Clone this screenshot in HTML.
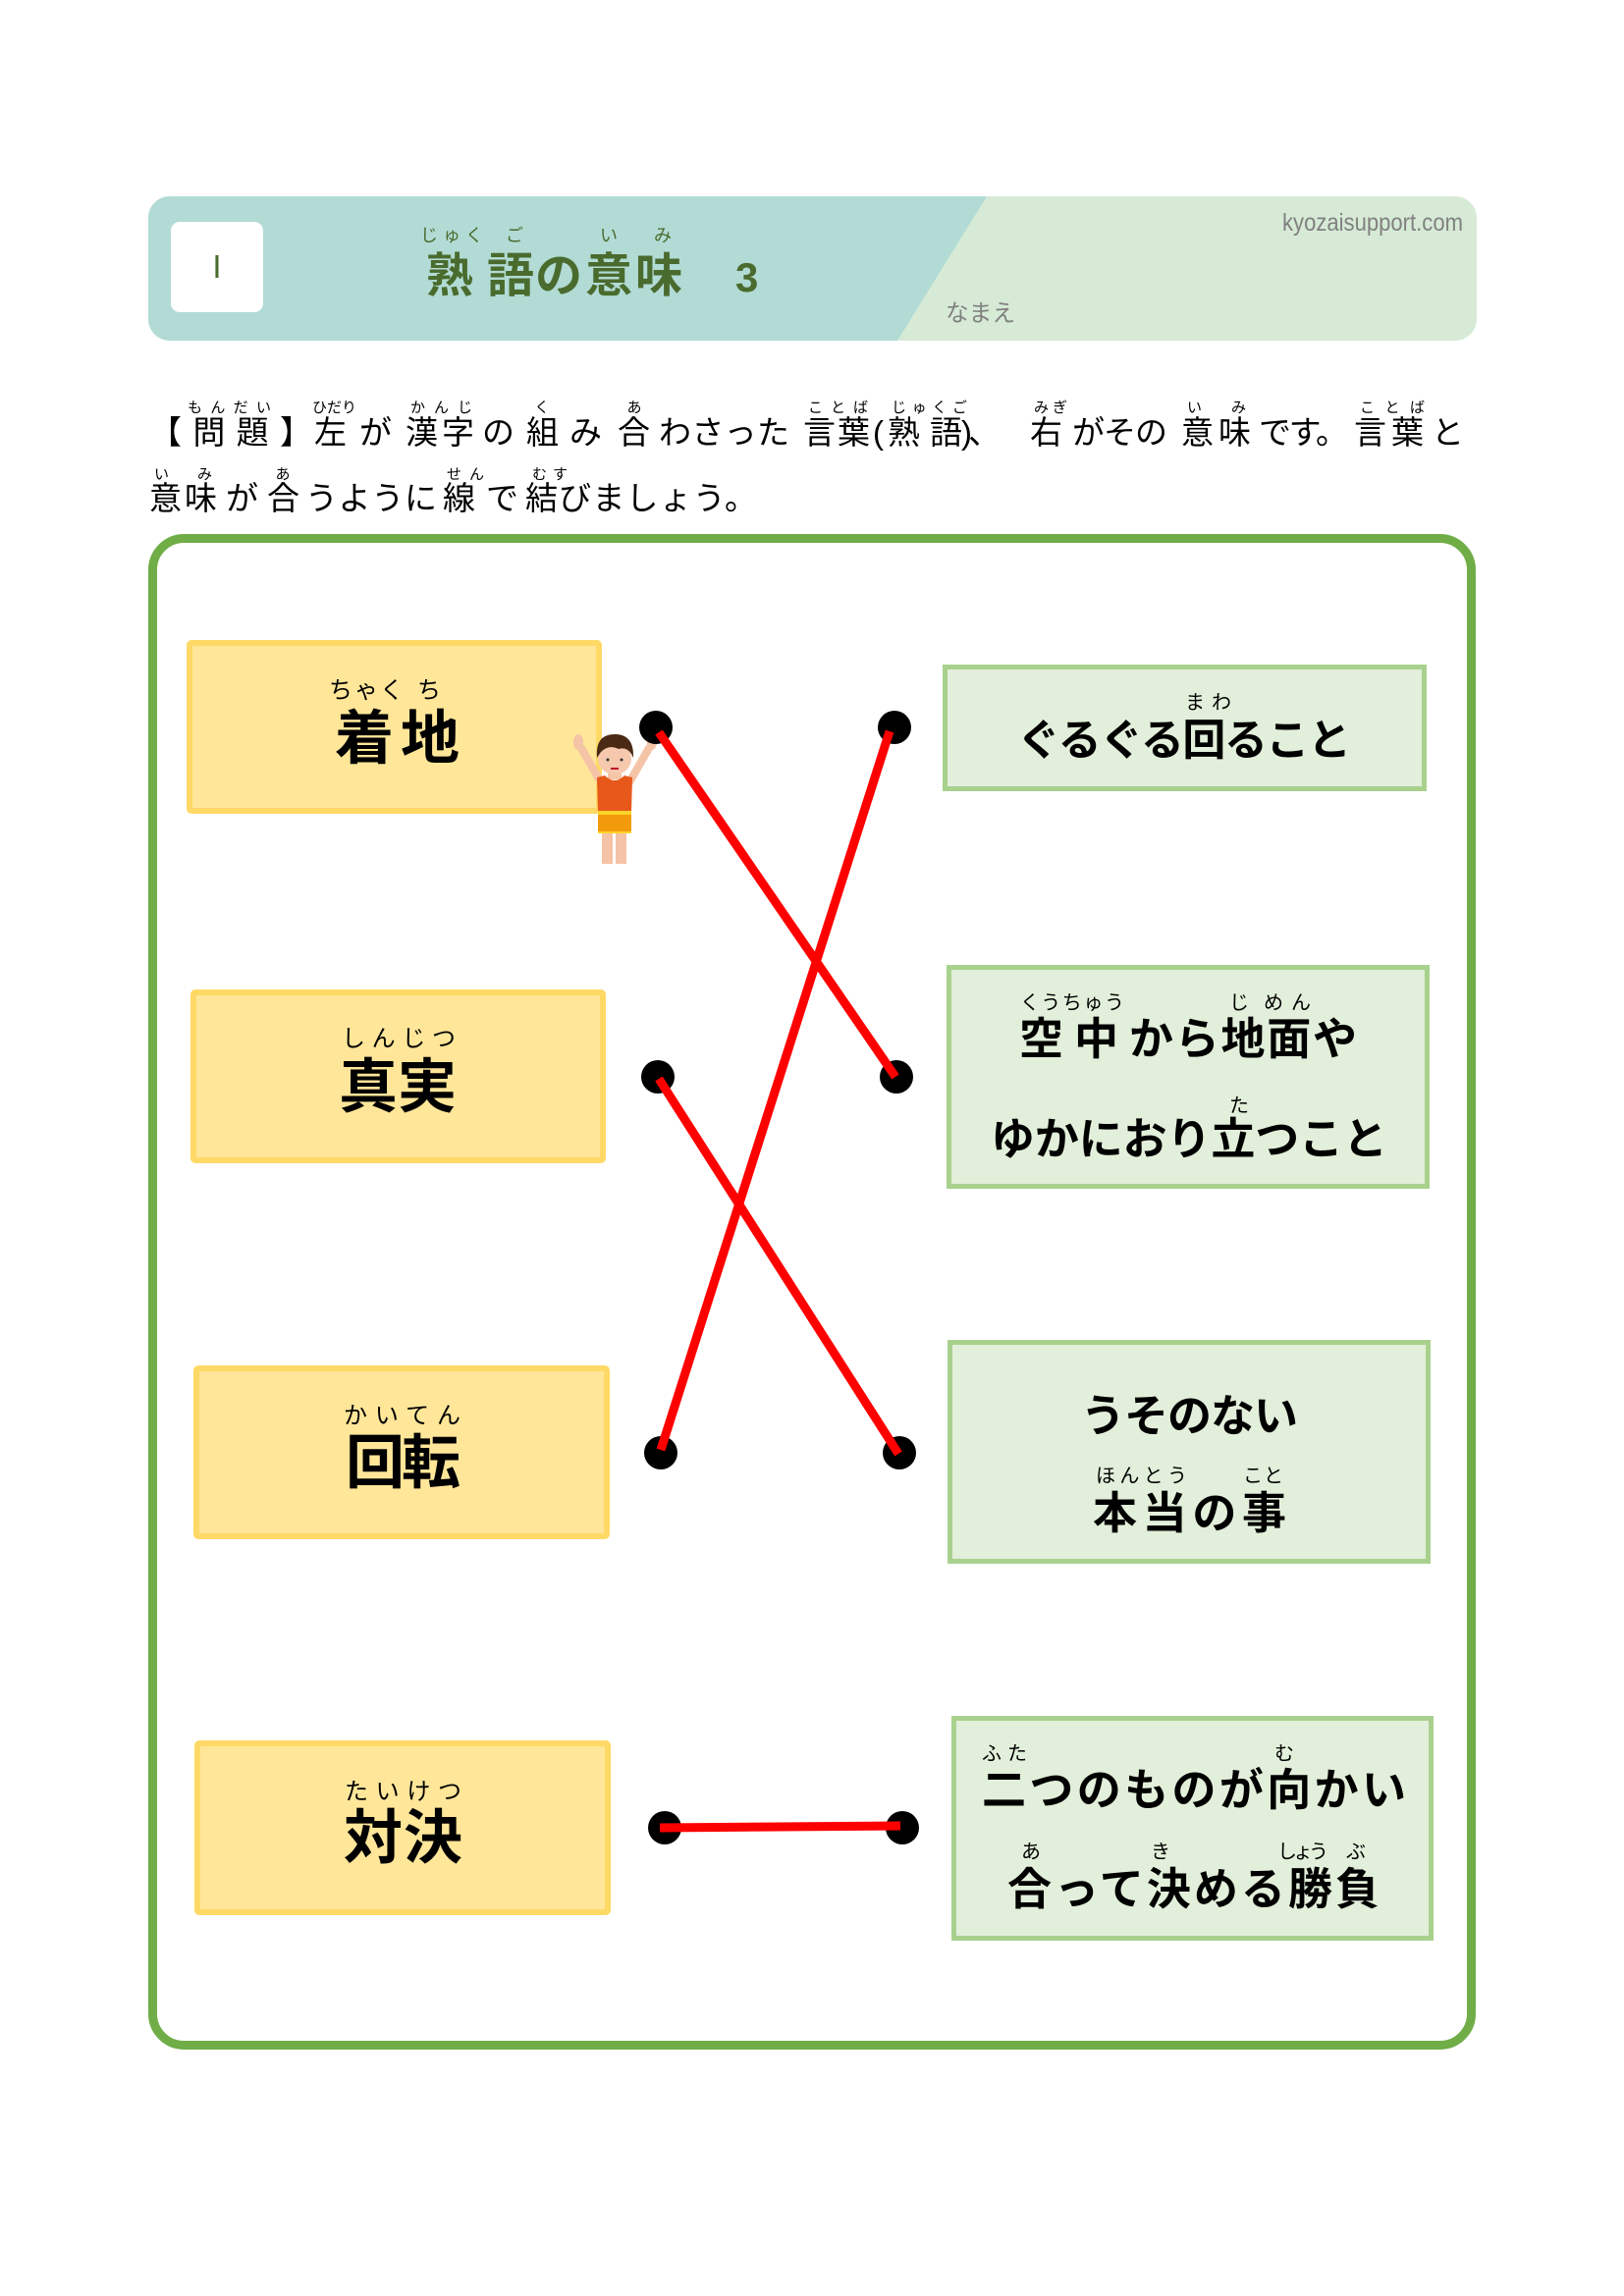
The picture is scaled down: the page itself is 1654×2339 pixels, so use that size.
<!DOCTYPE html>
<html lang="ja">
<head>
<meta charset="utf-8">
<style>
  html,body{margin:0;padding:0;background:#fff;}
  body{width:1654px;height:2339px;overflow:hidden;}
  svg{display:block;}
  .jp{font-family:"Liberation Sans","Noto Sans CJK JP",sans-serif;}
  .b{font-weight:bold;}
</style>
</head>
<body>
<svg width="1654" height="2339" viewBox="0 0 1654 2339" xmlns="http://www.w3.org/2000/svg">
  <defs>
    <clipPath id="hdr">
      <rect x="151" y="200" width="1353" height="147" rx="22" ry="22"/>
    </clipPath>
  </defs>

  <!-- Header band -->
  <g clip-path="url(#hdr)">
    <rect x="151" y="200" width="1353" height="147" fill="#d6ead6"/>
    <polygon points="151,200 1005,200 914,347 151,347" fill="#b2dbd5"/>
  </g>
  <rect x="174" y="226" width="94" height="92" rx="9" ry="9" fill="#ffffff"/>
  <text x="221" y="283" font-family="Liberation Sans, sans-serif" font-size="33" fill="#4a6b2e" text-anchor="middle">I</text>

  <!-- Title -->
  <g class="jp" fill="#4a6b2e">
    <text x="428" y="246" font-size="18" textLength="64">じゅく</text>
    <text x="515" y="246" font-size="18">ご</text>
    <text x="611" y="246" font-size="18">い</text>
    <text x="666" y="246" font-size="18">み</text>
    <text class="b" x="434" y="297" font-size="48">熟</text>
    <text class="b" x="496" y="297" font-size="48">語</text>
    <text class="b" x="545" y="297" font-size="48" textLength="150">の意味</text>
    <text class="b" x="749" y="297" font-size="42" font-family="Liberation Sans, sans-serif">3</text>
  </g>
  <text x="1306" y="235" font-family="Liberation Sans, sans-serif" font-size="25" fill="#808080" textLength="184" lengthAdjust="spacingAndGlyphs">kyozaisupport.com</text>
  <text class="jp" x="963" y="327" font-size="24" fill="#808080" textLength="71" lengthAdjust="spacingAndGlyphs">なまえ</text>

  <!-- Instruction line 1 -->
  <g class="jp" fill="#000">
    <text x="191" y="420" font-size="15" textLength="85">もんだい</text>
    <text x="318" y="420" font-size="15" textLength="45">ひだり</text>
    <text x="418" y="420" font-size="15" textLength="63">かんじ</text>
    <text x="552" y="420" font-size="15" text-anchor="middle">く</text>
    <text x="646" y="420" font-size="15" text-anchor="middle">あ</text>
    <text x="823" y="420" font-size="15" textLength="61">ことば</text>
    <text x="908" y="420" font-size="15" textLength="77">じゅくご</text>
    <text x="1053" y="420" font-size="15" textLength="34">みぎ</text>
    <text x="1209" y="420" font-size="15" textLength="60">いみ</text>
    <text x="1385" y="420" font-size="15" textLength="66">ことば</text>

    <text x="152" y="452" font-size="33" textLength="166">【問題】</text>
    <text x="320" y="452" font-size="33">左</text>
    <text x="366" y="452" font-size="33">が</text>
    <text x="413" y="452" font-size="33" textLength="70">漢字</text>
    <text x="491" y="452" font-size="33">の</text>
    <text x="536" y="452" font-size="33">組</text>
    <text x="580" y="452" font-size="33">み</text>
    <text x="629" y="452" font-size="33">合</text>
    <text x="671" y="452" font-size="33" textLength="133">わさった</text>
    <text x="818" y="452" font-size="33" textLength="68">言葉</text>
    <text x="889" y="452" font-size="33">(</text>
    <text x="904" y="452" font-size="33">熟</text>
    <text x="947" y="452" font-size="33">語</text>
    <text x="979" y="452" font-size="33">)</text>
    <text x="986" y="452" font-size="33">、</text>
    <text x="1049" y="452" font-size="33">右</text>
    <text x="1092" y="452" font-size="33" textLength="97">がその</text>
    <text x="1203" y="452" font-size="33" textLength="71">意味</text>
    <text x="1282" y="452" font-size="33" textLength="91">です。</text>
    <text x="1379" y="452" font-size="33" textLength="71">言葉</text>
    <text x="1458" y="452" font-size="33">と</text>

    <!-- Instruction line 2 -->
    <text x="157" y="488" font-size="15" textLength="59">いみ</text>
    <text x="288" y="488" font-size="15" text-anchor="middle">あ</text>
    <text x="455" y="488" font-size="15" textLength="38">せん</text>
    <text x="542" y="488" font-size="15" textLength="36">むす</text>

    <text x="152" y="519" font-size="33" textLength="69">意味</text>
    <text x="230" y="519" font-size="33">が</text>
    <text x="272" y="519" font-size="33">合</text>
    <text x="311" y="519" font-size="33" textLength="134">うように</text>
    <text x="451" y="519" font-size="33">線</text>
    <text x="495" y="519" font-size="33">で</text>
    <text x="535" y="519" font-size="33" textLength="236">結びましょう。</text>
  </g>

  <!-- Big green frame -->
  <rect x="155.5" y="548.5" width="1343" height="1535" rx="32" ry="32" fill="none" stroke="#70ad47" stroke-width="9"/>

  <!-- Left boxes -->
  <g fill="#ffe699" stroke="#ffd966" stroke-width="6">
    <rect x="193" y="655" width="417" height="171" rx="2"/>
    <rect x="197" y="1011" width="417" height="171" rx="2"/>
    <rect x="200" y="1394" width="418" height="171" rx="2"/>
    <rect x="201" y="1776" width="418" height="172" rx="2"/>
  </g>

  <!-- Right boxes -->
  <g fill="#e2efda" stroke="#a9d18e" stroke-width="5">
    <rect x="962.5" y="679.5" width="488" height="124"/>
    <rect x="966.5" y="985.5" width="487" height="223"/>
    <rect x="967.5" y="1367.5" width="487" height="223"/>
    <rect x="971.5" y="1750.5" width="486" height="224"/>
  </g>

  <!-- Left box texts -->
  <g class="jp" fill="#000">
    <text x="335" y="711" font-size="24" textLength="76">ちゃく</text>
    <text x="425" y="711" font-size="24">ち</text>
    <text class="b" x="341" y="773" font-size="60" textLength="127">着地</text>

    <text x="348" y="1066" font-size="24" textLength="116">しんじつ</text>
    <text class="b" x="345" y="1128" font-size="60" textLength="120">真実</text>

    <text x="350" y="1450" font-size="24" textLength="119">かいてん</text>
    <text class="b" x="352" y="1511" font-size="60" textLength="117">回転</text>

    <text x="351" y="1833" font-size="24" textLength="119">たいけつ</text>
    <text class="b" x="350" y="1893" font-size="60" textLength="121">対決</text>
  </g>

  <!-- Right box texts -->
  <g class="jp" fill="#000">
    <!-- R1 -->
    <text x="1207" y="722" font-size="20" textLength="47">まわ</text>
    <text class="b" x="1036" y="769" font-size="44" textLength="340">ぐるぐる回ること</text>

    <!-- R2 -->
    <text x="1039" y="1028" font-size="20" textLength="106">くうちゅう</text>
    <text x="1252" y="1028" font-size="20">じ</text>
    <text x="1287" y="1028" font-size="20" textLength="48">めん</text>
    <text class="b" x="1038" y="1074" font-size="45">空</text>
    <text class="b" x="1094" y="1074" font-size="45">中</text>
    <text class="b" x="1150" y="1074" font-size="45" textLength="232">から地面や</text>
    <text x="1262" y="1133" font-size="20" text-anchor="middle">た</text>
    <text class="b" x="1009" y="1176" font-size="45" textLength="404">ゆかにおり立つこと</text>

    <!-- R3 -->
    <text class="b" x="1101" y="1458" font-size="45" textLength="221">うそのない</text>
    <text x="1116" y="1510" font-size="20" textLength="93">ほんとう</text>
    <text x="1266" y="1510" font-size="20" textLength="41">こと</text>
    <text class="b" x="1113" y="1557" font-size="45" textLength="197">本当の事</text>

    <!-- R4 -->
    <text x="1000" y="1793" font-size="20" textLength="46">ふた</text>
    <text x="1308" y="1793" font-size="20" text-anchor="middle">む</text>
    <text class="b" x="1000" y="1839" font-size="45" textLength="432">二つのものが向かい</text>
    <text x="1050" y="1893" font-size="20" text-anchor="middle">あ</text>
    <text x="1182" y="1893" font-size="20" text-anchor="middle">き</text>
    <text x="1301" y="1893" font-size="20" textLength="52">しょう</text>
    <text x="1381" y="1893" font-size="20" text-anchor="middle">ぶ</text>
    <text class="b" x="1026" y="1940" font-size="45" textLength="379">合って決める勝負</text>
  </g>

  <!-- Person illustration -->
  <g>
    <line x1="612" y1="797" x2="592" y2="762" stroke="#f5c3a5" stroke-width="8" stroke-linecap="round"/>
    <line x1="641" y1="797" x2="661" y2="762" stroke="#f5c3a5" stroke-width="8" stroke-linecap="round"/>
    <ellipse cx="589" cy="756" rx="5" ry="8" fill="#f5c3a5"/>
    <ellipse cx="664" cy="756" rx="5" ry="8" fill="#f5c3a5"/>
    <rect x="613" y="846" width="11" height="34" fill="#f5c3a5"/>
    <rect x="627" y="846" width="11" height="34" fill="#f5c3a5"/>
    <rect x="619" y="782" width="14" height="12" fill="#f5c3a5"/>
    <path d="M608,792 L616,790 Q626,800 636,790 L644,792 L643,828 L609,828 Z" fill="#e8581b"/>
    <rect x="609" y="826" width="34" height="4" fill="#ffd42a"/>
    <rect x="609" y="830" width="34" height="18" fill="#f39a0c"/>
    <rect x="609" y="847" width="34" height="2" fill="#ffd42a"/>
    <ellipse cx="626" cy="773" rx="17" ry="16" fill="#f6c9ae"/>
    <path d="M608,772 Q606,748 626,748 Q646,748 645,772 Q640,760 630,763 Q620,758 612,766 Z" fill="#4a2a14"/>
    <circle cx="619" cy="774" r="1.5" fill="#333"/>
    <circle cx="633" cy="774" r="1.5" fill="#333"/>
    <rect x="622" y="782" width="8" height="2" fill="#c0102a"/>
  </g>

  <!-- Connector dots -->
  <g fill="#000">
    <circle cx="668" cy="741" r="17"/>
    <circle cx="911" cy="741" r="17"/>
    <circle cx="670" cy="1097" r="17"/>
    <circle cx="913" cy="1097" r="17"/>
    <circle cx="673" cy="1480" r="17"/>
    <circle cx="916" cy="1480" r="17"/>
    <circle cx="677" cy="1862" r="17"/>
    <circle cx="919" cy="1862" r="17"/>
  </g>
  <!-- Red connector lines -->
  <g stroke="#ff0000" stroke-width="9" stroke-linecap="butt">
    <line x1="671" y1="746" x2="912" y2="1097"/>
    <line x1="906" y1="745" x2="673" y2="1477"/>
    <line x1="671" y1="1099" x2="915" y2="1481"/>
    <line x1="672" y1="1862" x2="917" y2="1860"/>
  </g>
</svg>
</body>
</html>
